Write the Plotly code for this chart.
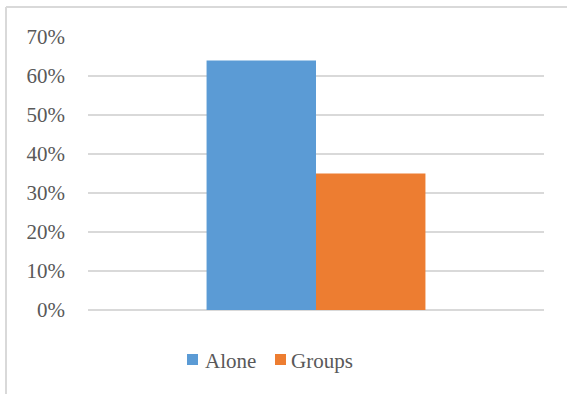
import plotly.graph_objects as go

categories = [""]
alone = [0.64]
groups = [0.35]
tick_vals = [0, 0.1, 0.2, 0.3, 0.4, 0.5, 0.6, 0.7]
tick_text = ["0%", "10%", "20%", "30%", "40%", "50%", "60%", "70%"]
series_names = ["Alone", "Groups"]
series_colors = ["#5b9bd5", "#ed7d31"]

W, H = 567, 394
L, R, T, B = 88, 23, 37, 84
pw, ph = W - L - R, H - T - B

def px_x(x):
    return (x - L) / pw

def px_y(y):
    return (H - B - y) / ph

FAMILY = "Liberation Serif"

fig = go.Figure()
for name, vals, color in zip(series_names, [alone, groups], series_colors):
    fig.add_trace(go.Bar(name=name, x=categories, y=vals, marker_color=color,
                         marker_line_width=0, showlegend=False))

# legend drawn as colour squares plus labels under the plot
shapes = [
    dict(type="line", xref="paper", yref="paper", x0=px_x(6), x1=px_x(570), y0=px_y(7), y1=px_y(7),
         line=dict(color="#d9d9d9", width=2)),
    dict(type="line", xref="paper", yref="paper", x0=px_x(6), x1=px_x(6), y0=px_y(7), y1=px_y(400),
         line=dict(color="#d9d9d9", width=2)),
]
annotations = []
for (sx, tx), name, color in zip([(187, 203), (275, 289)], series_names, series_colors):
    shapes.append(dict(type="rect", xref="paper", yref="paper",
                       x0=px_x(sx), x1=px_x(sx + 11), y0=px_y(354), y1=px_y(365),
                       fillcolor=color, line=dict(width=0)))
    annotations.append(dict(text=name, xref="paper", yref="paper", x=px_x(tx), y=px_y(361),
                            xanchor="left", yanchor="middle", showarrow=False,
                            font=dict(family=FAMILY, size=21, color="#595959")))

fig.update_layout(
    width=W, height=H,
    margin=dict(l=L, r=R, t=T, b=B),
    paper_bgcolor="white", plot_bgcolor="white",
    barmode="group", bargap=0.52, bargroupgap=0,
    font=dict(family=FAMILY, size=21, color="#595959"),
    showlegend=False,
    xaxis=dict(showticklabels=False, showgrid=False, zeroline=False, showline=False),
    yaxis=dict(range=[0, 0.7], tickvals=tick_vals, ticktext=tick_text,
               showgrid=True, gridcolor="#d9d9d9", gridwidth=1.5,
               zeroline=True, zerolinecolor="#d9d9d9", zerolinewidth=1.5,
               showline=False, ticks="", ticklabelstandoff=22,
               tickfont=dict(family=FAMILY, size=21, color="#595959")),
    shapes=shapes,
    annotations=annotations,
)

fig.write_html("out.html")
